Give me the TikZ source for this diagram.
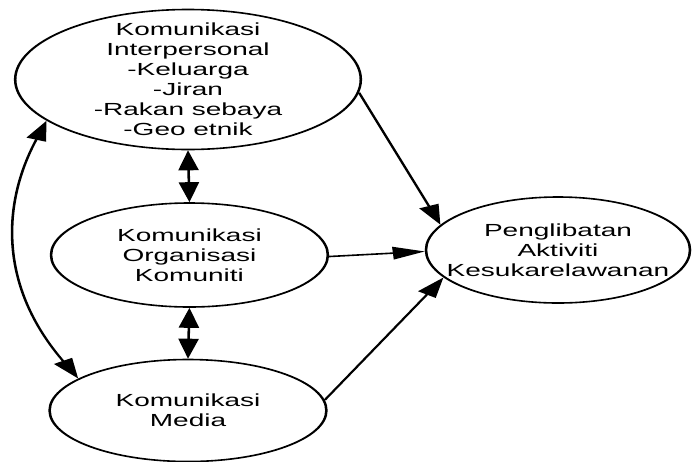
\documentclass[tikz,border=0pt]{standalone}
\usepackage{fontspec}
\setmainfont{Liberation Sans}
\usetikzlibrary{shapes.geometric,arrows.meta}
\begin{document}
\begin{tikzpicture}[x=1pt,y=-1pt,
  oval/.style={ellipse, draw, line width=1.6pt, inner sep=-20pt, align=center,
    font=\fontsize{17.5}{20}\selectfont},
  link/.style={line width=1.6pt, -{Triangle[length=20pt,width=12.5pt]}},
  twoway/.style={line width=1.6pt,
    {Triangle[length=20pt,width=12.5pt]}-{Triangle[length=20pt,width=12.5pt]}}]
\path[use as bounding box, fill=white] (0,0) rectangle (692,461);
\begin{scope}[transform canvas={xscale=1.6}]
\node[oval, minimum width=216pt, minimum height=140pt] (inter) at (117.5,79.5)
  {Komunikasi\\Interpersonal\\-Keluarga\\-Jiran\\-Rakan sebaya\\-Geo etnik};
\node[oval, minimum width=173pt, minimum height=104pt] (org) at (118.4,255)
  {Komunikasi\\Organisasi\\Komuniti};
\node[oval, minimum width=173pt, minimum height=102pt] (media) at (117.5,410.5)
  {Komunikasi\\Media};
\node[oval, minimum width=165pt, minimum height=106pt] (vol) at (348.75,250)
  {Penglibatan\\Aktiviti\\Kesukarelawanan};
\draw[link] (inter.-7) -- (vol.161);
\draw[link] (org.-1) -- (vol.181);
\draw[link] (media.7) -- (vol.201);
\draw[twoway] (inter.south) -- (org.north);
\draw[twoway] (org.south) -- (media.north);
\draw[twoway] (inter.205) .. controls (1.6,202) and (-1.5,285) .. (media.155);
\end{scope}
\end{tikzpicture}
\end{document}
